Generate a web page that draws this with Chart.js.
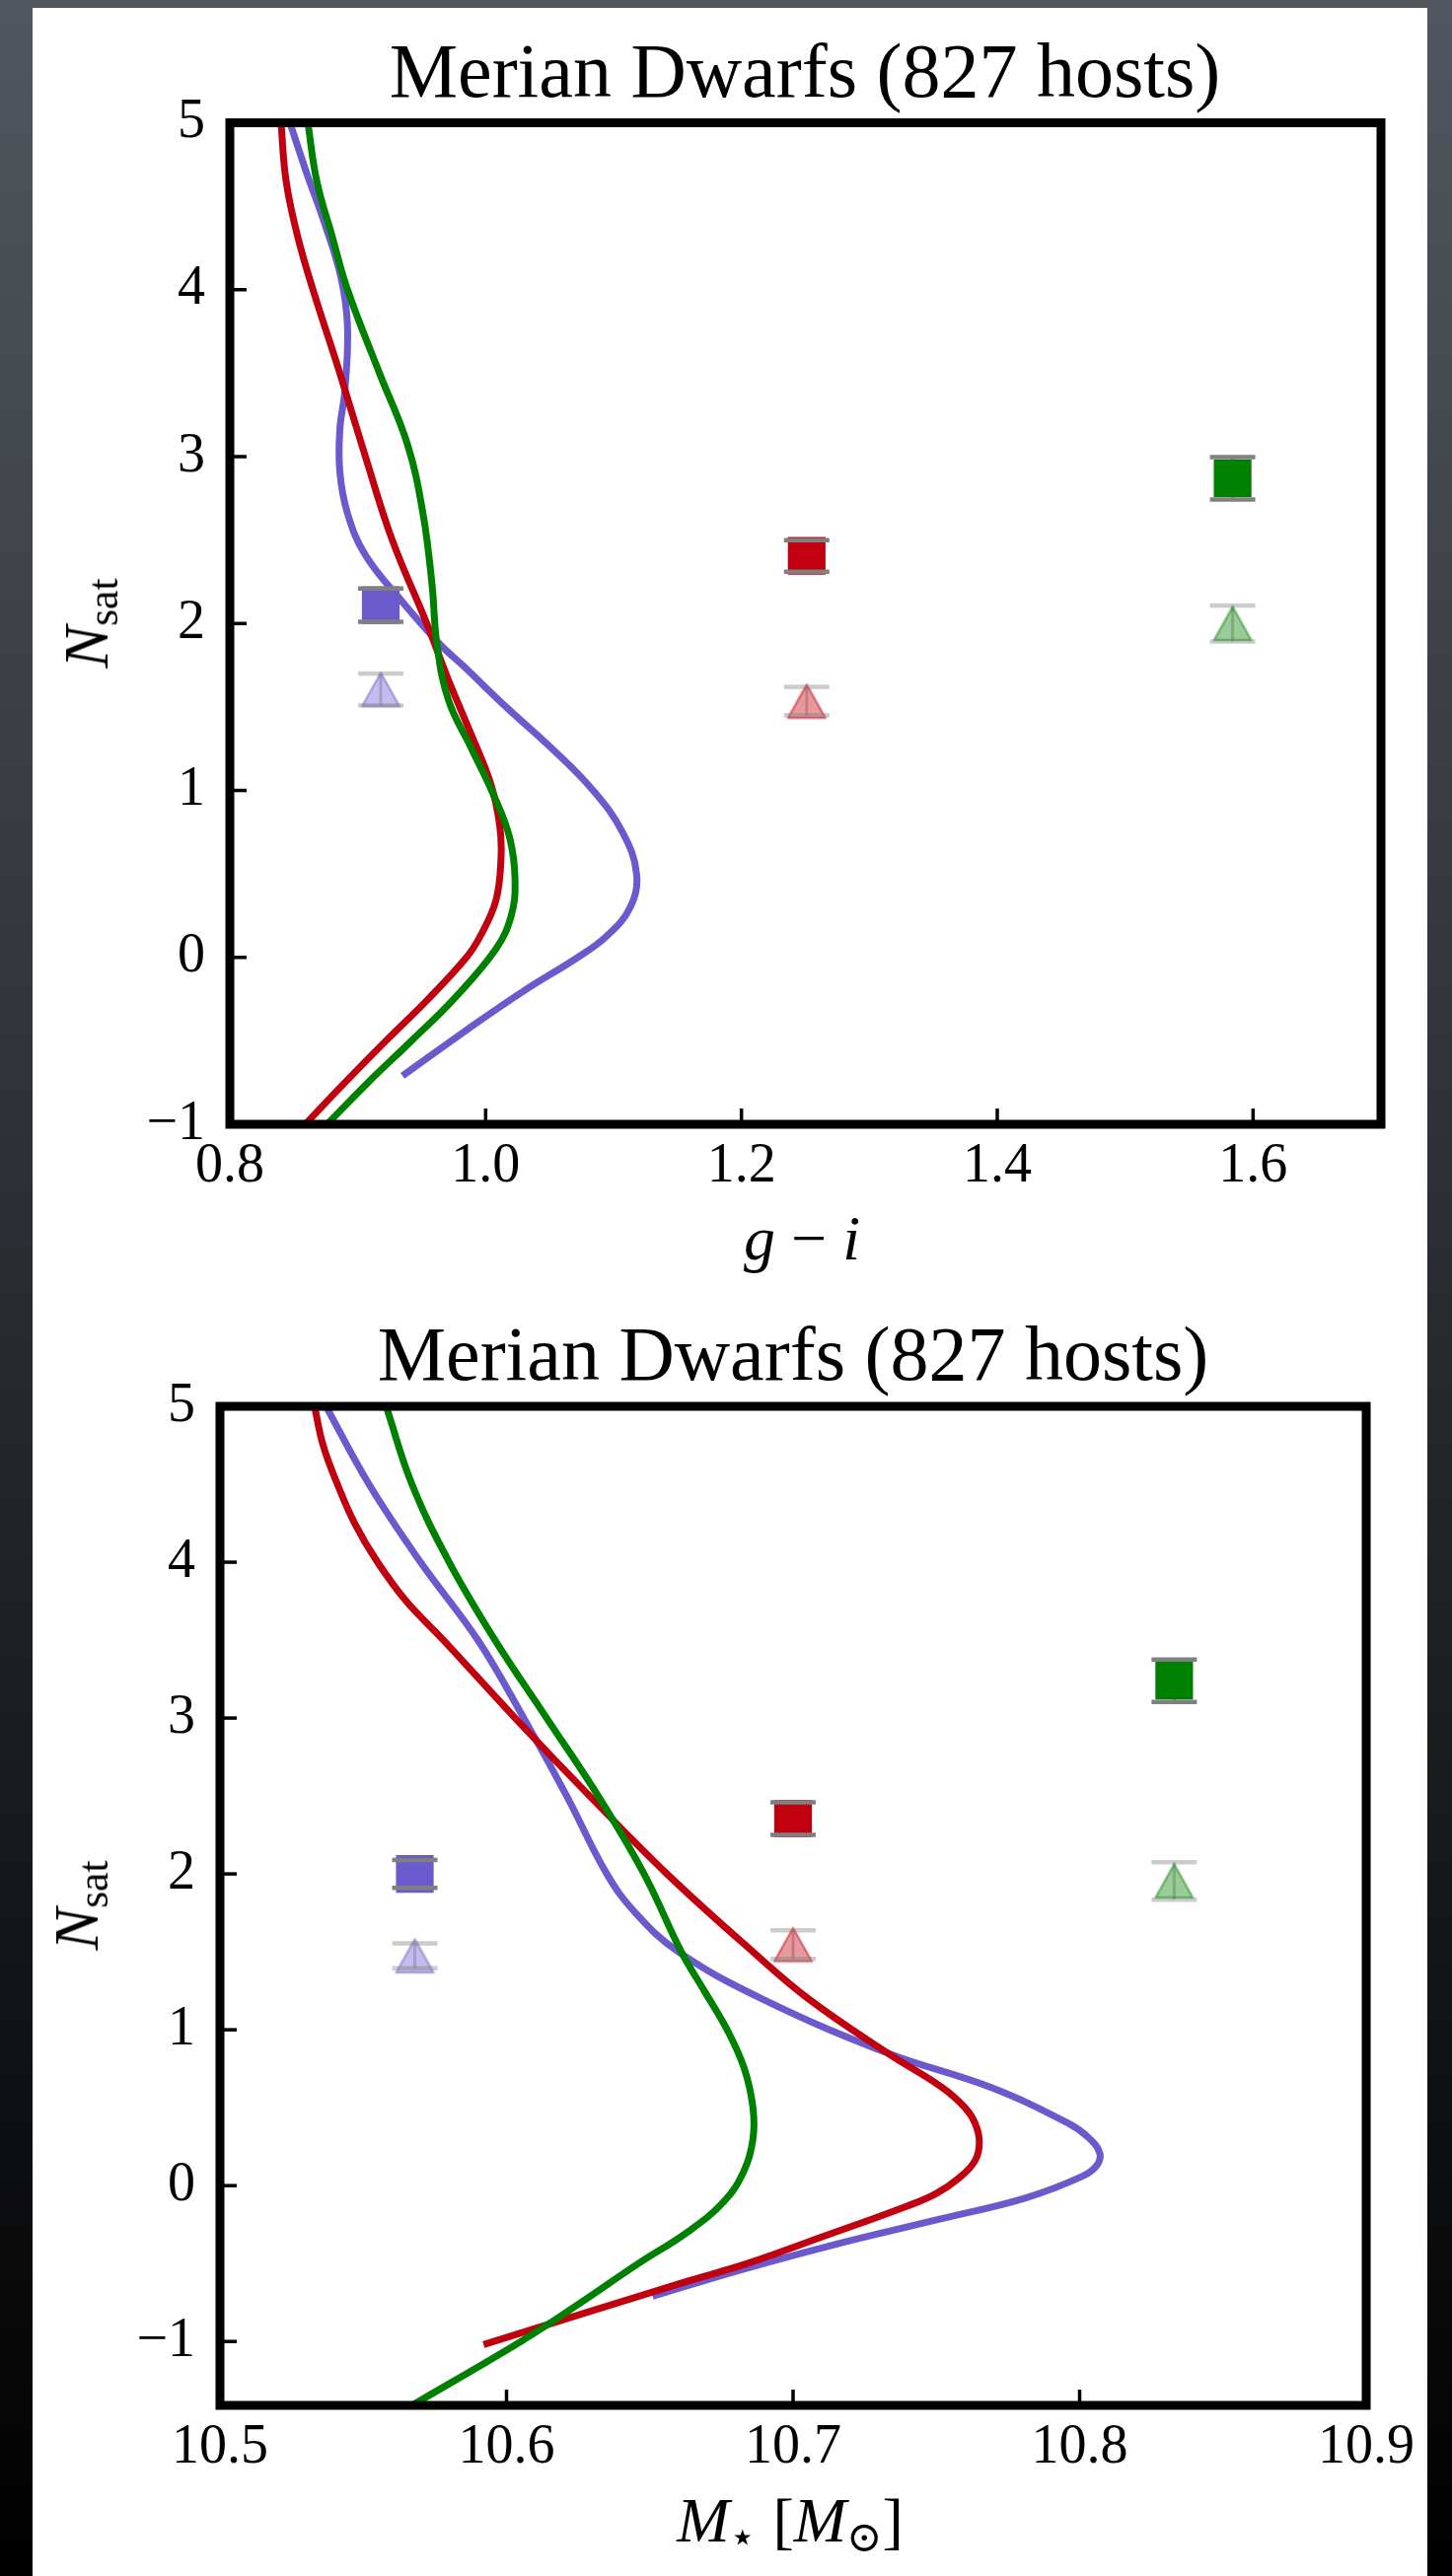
<!DOCTYPE html>
<html>
<head>
<meta charset="utf-8">
<script src="https://cdn.jsdelivr.net/npm/chart.js@4.4.1/dist/chart.umd.min.js"></script>
<style>
  html, body { margin: 0; padding: 0; }
  body {
    width: 1472px; height: 2612px; position: relative; overflow: hidden;
    background: linear-gradient(#52575f, #000);
    font-family: "Liberation Serif", "DejaVu Serif", serif;
  }
  #card { position: absolute; left: 33px; top: 8px; width: 1414px; height: 2604px; background: #fff; }
  canvas { position: absolute; left: 0; }
  .txt { position: absolute; line-height: 1; white-space: nowrap; color: #000; z-index: 2; }
  .title { font-size: 78px; transform: translateX(-50%); }
  .xlab { font-size: 64px; transform: translateX(-50%); }
  .ylab { font-size: 64px; transform: translate(-50%, -50%) rotate(-90deg); }
  .sub { font-size: 0.68em; position: relative; top: 0.22em; font-style: normal; }
  i { font-style: italic; }
</style>
</head>
<body>
<div id="card"></div>

<canvas id="giChart" width="1472" height="1330" style="top:0"></canvas>
<canvas id="massChart" width="1472" height="1282" style="top:1330px"></canvas>

<div class="txt title" style="left:816px; top:33px">Merian Dwarfs (827 hosts)</div>
<div class="txt xlab" style="left:813px; top:1224px"><i>g</i> − <i>i</i></div>
<div class="txt ylab" style="left:88px; top:632px"><i>N</i><span class="sub">sat</span></div>

<div class="txt title" style="left:804px; top:1334px">Merian Dwarfs (827 hosts)</div>
<div class="txt xlab" style="left:801px; top:2524px"><i>M</i><span class="sub">⋆</span> [<i>M</i><span class="sub">⊙</span>]</div>
<div class="txt ylab" style="left:78px; top:1932px"><i>N</i><span class="sub">sat</span></div>

<script>
// ---- panel 1 : N_sat vs g - i ----
const giTicks = [0.8, 1.0, 1.2, 1.4, 1.6];
const giNTicks = [-1, 0, 1, 2, 3, 4, 5];
const giBins = [0.918, 1.251, 1.584];
const giAllN = [2.11, 2.405, 2.87];
const giAllErr = [0.10, 0.095, 0.127];
const giTriN = [1.605, 1.535, 2.0];
const giTriErr = [0.095, 0.085, 0.108];

const giBlueY = [5.0, 4.7, 4.4, 4.07, 3.78, 3.4, 3.16, 2.91, 2.66, 2.41, 2.12, 1.87, 1.75, 1.5, 1.25, 1.0, 0.75, 0.5, 0.3, 0.13, 0.0, -0.2, -0.43, -0.71];
const giBlueX = [0.847, 0.860, 0.874, 0.887, 0.892, 0.890, 0.886, 0.886, 0.892, 0.906, 0.936, 0.965, 0.982, 1.016, 1.052, 1.084, 1.107, 1.118, 1.113, 1.095, 1.072, 1.030, 0.986, 0.935];
const giRedY = [5.0, 4.65, 4.32, 4.0, 3.5, 3.0, 2.5, 2.0, 1.66, 1.33, 1.04, 0.79, 0.59, 0.34, 0.13, 0.0, -0.25, -0.5, -0.75, -1.0];
const giRedX = [0.840, 0.844, 0.853, 0.865, 0.886, 0.906, 0.927, 0.954, 0.971, 0.989, 1.004, 1.011, 1.012, 1.008, 0.996, 0.985, 0.955, 0.922, 0.890, 0.859];
const giGreenY = [5.0, 4.65, 4.32, 4.0, 3.5, 3.07, 2.66, 2.24, 1.87, 1.54, 1.25, 0.96, 0.71, 0.46, 0.25, 0.05, -0.25, -0.5, -0.75, -1.0];
const giGreenX = [0.861, 0.868, 0.880, 0.892, 0.917, 0.939, 0.951, 0.958, 0.962, 0.971, 0.989, 1.007, 1.019, 1.023, 1.020, 1.008, 0.975, 0.942, 0.908, 0.876];

// ---- panel 2 : N_sat vs stellar mass ----
const massTicks = [10.5, 10.6, 10.7, 10.8, 10.9];
const massNTicks = [-1, 0, 1, 2, 3, 4, 5];
const massBins = [10.568, 10.700, 10.833];
const massAllN = [2.0, 2.355, 3.24];
const massAllErr = [0.09, 0.105, 0.136];
const massTriN = [1.475, 1.547, 1.955];
const massTriErr = [0.08, 0.092, 0.12];

const massBlueY = [5.0, 4.5, 4.0, 3.5, 3.0, 2.5, 2.0, 1.75, 1.5, 1.2, 0.85, 0.63, 0.4, 0.31, 0.21, 0.13, 0.06, -0.08, -0.22, -0.39, -0.55, -0.71];
const massBlueX = [10.537, 10.552, 10.570, 10.590, 10.606, 10.621, 10.635, 10.645, 10.660, 10.689, 10.733, 10.769, 10.796, 10.803, 10.807, 10.806, 10.801, 10.781, 10.750, 10.712, 10.680, 10.651];
const massRedY = [5.0, 4.75, 4.5, 4.25, 4.0, 3.75, 3.5, 3.0, 2.5, 2.0, 1.5, 1.19, 0.85, 0.63, 0.5, 0.4, 0.28, 0.16, 0.05, -0.05, -0.13, -0.33, -0.5, -0.62, -1.02];
const massRedX = [10.533, 10.536, 10.541, 10.547, 10.555, 10.565, 10.578, 10.603, 10.629, 10.656, 10.686, 10.706, 10.733, 10.752, 10.760, 10.7635, 10.765, 10.7635, 10.758, 10.750, 10.740, 10.710, 10.684, 10.662, 10.592];
const massGreenY = [5.0, 4.5, 4.0, 3.5, 3.0, 2.5, 2.0, 1.5, 1.25, 1.0, 0.75, 0.5, 0.3, 0.1, -0.1, -0.3, -0.5, -0.75, -1.0, -1.41];
const massGreenX = [10.558, 10.567, 10.580, 10.596, 10.614, 10.632, 10.648, 10.661, 10.669, 10.677, 10.683, 10.686, 10.686, 10.683, 10.676, 10.663, 10.646, 10.626, 10.605, 10.567];

const BLUE = '106,90,205', RED = '192,0,15', GREEN = '0,128,0';
const binColors = [BLUE, RED, GREEN];
const FONT = '"Liberation Serif", "DejaVu Serif", serif';

function triangleImage(rgb) {
  const c = document.createElement('canvas');
  c.width = 42; c.height = 38;
  const g = c.getContext('2d');
  g.beginPath();
  g.moveTo(21, 2); g.lineTo(2, 36); g.lineTo(40, 36); g.closePath();
  g.fillStyle = 'rgba(' + rgb + ',0.4)';
  g.fill();
  g.lineWidth = 2.5;
  g.lineJoin = 'round';
  g.strokeStyle = 'rgba(' + rgb + ',0.45)';
  g.stroke();
  return c;
}

function curve(xs, ys, rgb) {
  return {
    type: 'line',
    data: xs.map((x, i) => ({ x: x, y: ys[i] })),
    borderColor: 'rgb(' + rgb + ')',
    borderWidth: 7,
    pointRadius: 0,
    tension: 0.4,
    fill: false
  };
}

// draws error bars, inward ticks and the thick frame
const frameAndBars = {
  id: 'frameAndBars',
  beforeDatasetsDraw(chart) {
    const ctx = chart.ctx, xs = chart.scales.x, ys = chart.scales.y;
    ctx.save();
    chart.data.datasets.forEach(ds => {
      if (!ds.yErr) return;
      ctx.strokeStyle = ds.errColor;
      ctx.lineWidth = 3;
      ds.data.forEach((p, i) => {
        const px = xs.getPixelForValue(p.x);
        ctx.beginPath();
        ctx.moveTo(px, ys.getPixelForValue(p.y - ds.yErr[i]));
        ctx.lineTo(px, ys.getPixelForValue(p.y + ds.yErr[i]));
        ctx.stroke();
      });
    });
    ctx.restore();
  },
  afterDatasetsDraw(chart) {
    const ctx = chart.ctx, xs = chart.scales.x, ys = chart.scales.y, a = chart.chartArea;
    ctx.save();
    chart.data.datasets.forEach(ds => {
      if (!ds.yErr) return;
      ctx.strokeStyle = ds.errColor;
      ctx.lineWidth = 4.5;
      ds.data.forEach((p, i) => {
        const px = xs.getPixelForValue(p.x);
        [p.y - ds.yErr[i], p.y + ds.yErr[i]].forEach(v => {
          const py = ys.getPixelForValue(v);
          ctx.beginPath();
          ctx.moveTo(px - 23, py);
          ctx.lineTo(px + 23, py);
          ctx.stroke();
        });
      });
    });
    ctx.strokeStyle = '#000';
    ctx.lineWidth = 3.5;
    xs.ticks.forEach(t => {
      const px = xs.getPixelForValue(t.value);
      ctx.beginPath(); ctx.moveTo(px, a.bottom); ctx.lineTo(px, a.bottom - 16); ctx.stroke();
    });
    ys.ticks.forEach(t => {
      const py = ys.getPixelForValue(t.value);
      ctx.beginPath(); ctx.moveTo(a.left, py); ctx.lineTo(a.left + 17, py); ctx.stroke();
    });
    ctx.lineWidth = 9;
    ctx.lineJoin = 'miter';
    ctx.strokeRect(a.left, a.top, a.right - a.left, a.bottom - a.top);
    ctx.restore();
  }
};

function makePanel(id, p) {
  const tickFont = { family: FONT, size: 56 };
  const datasets = [
    {
      data: p.bins.map((x, i) => ({ x: x, y: p.allN[i] })),
      yErr: p.allErr, errColor: 'rgb(128,128,128)',
      pointStyle: 'rect', pointRadius: 27, pointBorderWidth: 0,
      pointBackgroundColor: binColors.map(c => 'rgb(' + c + ')')
    },
    {
      data: p.bins.map((x, i) => ({ x: x, y: p.triN[i] })),
      yErr: p.triErr, errColor: 'rgba(128,128,128,0.4)',
      pointStyle: binColors.map(triangleImage), pointRadius: 20
    },
    curve(p.greenX, p.greenY, GREEN),
    curve(p.redX, p.redY, RED),
    curve(p.blueX, p.blueY, BLUE)
  ];
  return new Chart(document.getElementById(id), {
    type: 'scatter',
    data: { datasets: datasets },
    plugins: [frameAndBars],
    options: {
      responsive: false,
      animation: false,
      devicePixelRatio: 1,
      events: [],
      elements: { line: { borderWidth: 7, tension: 0.4, borderCapStyle: 'butt', borderJoinStyle: 'round' } },
      layout: { padding: p.padding },
      plugins: { legend: { display: false }, tooltip: { enabled: false } },
      scales: {
        x: {
          type: 'linear', min: p.xMin, max: p.xMax,
          grid: { display: false, drawTicks: false }, border: { display: false },
          afterBuildTicks: s => { s.ticks = p.xTicks.map(v => ({ value: v })); },
          afterFit: s => { s.height = p.xAxisHeight; },
          ticks: { font: tickFont, color: '#000', padding: 10, maxRotation: 0,
                   callback: v => v.toFixed(1) }
        },
        y: {
          type: 'linear', min: p.yMin, max: p.yMax,
          grid: { display: false, drawTicks: false }, border: { display: false },
          afterBuildTicks: s => { s.ticks = p.yTicks.map(v => ({ value: v })); },
          afterFit: s => { s.width = p.yAxisWidth; },
          ticks: { font: tickFont, color: '#000', padding: 25,
                   callback: v => (v < 0 ? '\u2212' + Math.abs(v) : String(v)) }
        }
      }
    }
  });
}

makePanel('giChart', {
  bins: giBins, allN: giAllN, allErr: giAllErr, triN: giTriN, triErr: giTriErr,
  blueX: giBlueX, blueY: giBlueY, redX: giRedX, redY: giRedY, greenX: giGreenX, greenY: giGreenY,
  xTicks: giTicks, yTicks: giNTicks, xMin: 0.8, xMax: 1.7, yMin: -1, yMax: 5,
  padding: { top: 124.5, right: 72, left: 0, bottom: 0 },
  yAxisWidth: 233, xAxisHeight: 190
});

makePanel('massChart', {
  bins: massBins, allN: massAllN, allErr: massAllErr, triN: massTriN, triErr: massTriErr,
  blueX: massBlueX, blueY: massBlueY, redX: massRedX, redY: massRedY, greenX: massGreenX, greenY: massGreenY,
  xTicks: massTicks, yTicks: massNTicks, xMin: 10.5, xMax: 10.9, yMin: -1.41, yMax: 5,
  padding: { top: 96, right: 87, left: 0, bottom: 0 },
  yAxisWidth: 223, xAxisHeight: 173
});
</script>
</body>
</html>
